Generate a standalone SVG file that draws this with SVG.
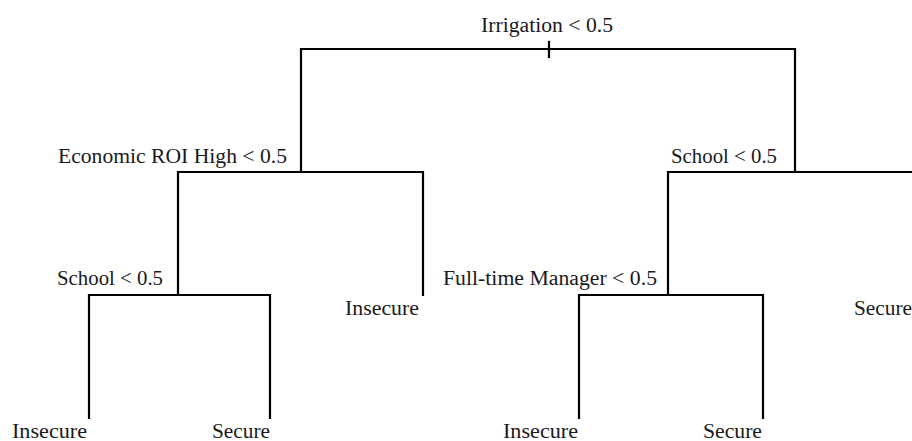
<svg xmlns="http://www.w3.org/2000/svg" width="912" height="441" viewBox="0 0 912 441">
<style>
.e{fill:none;stroke:#000;stroke-width:2.2;stroke-linecap:square}
text{font-family:"Liberation Serif","Times New Roman",serif;font-size:20px;fill:#1a1a1a}
.m{text-anchor:middle}
</style>
<rect width="912" height="441" fill="#fff"/>
<g id="connectors">
<path class="e" d="M301,172 V49 H795 V172"/>
<path class="e" d="M549,42 V57"/>
<path class="e" d="M423,295 V172 H178 V295"/>
<path class="e" d="M178,295 H89 V418"/>
<path class="e" d="M178,295 H270 V418"/>
<path class="e" d="M668,295 V172 H920"/>
<path class="e" d="M668,295 H579 V418"/>
<path class="e" d="M668,295 H763 V418"/>
</g>
<g id="n-irrigation"><text class="m" x="547" y="32" textLength="132" lengthAdjust="spacingAndGlyphs">Irrigation &lt; 0.5</text></g>
<g id="n-econ"><text x="58" y="163" textLength="229" lengthAdjust="spacingAndGlyphs">Economic ROI High &lt; 0.5</text></g>
<g id="n-school-r"><text x="671" y="163" textLength="106" lengthAdjust="spacingAndGlyphs">School &lt; 0.5</text></g>
<g id="n-school-l"><text x="57" y="285" textLength="106" lengthAdjust="spacingAndGlyphs">School &lt; 0.5</text></g>
<g id="n-fulltime"><text x="443" y="285" textLength="214" lengthAdjust="spacingAndGlyphs">Full-time Manager &lt; 0.5</text></g>
<g id="n-insecure-mid"><text x="345" y="315" textLength="74" lengthAdjust="spacingAndGlyphs">Insecure</text></g>
<g id="n-secure-right"><text x="854" y="315" textLength="58" lengthAdjust="spacingAndGlyphs">Secure</text></g>
<g id="n-insecure-1"><text x="12" y="438" textLength="75" lengthAdjust="spacingAndGlyphs">Insecure</text></g>
<g id="n-secure-1"><text x="212" y="438" textLength="58" lengthAdjust="spacingAndGlyphs">Secure</text></g>
<g id="n-insecure-2"><text x="503" y="438" textLength="75" lengthAdjust="spacingAndGlyphs">Insecure</text></g>
<g id="n-secure-2"><text x="703" y="438" textLength="59" lengthAdjust="spacingAndGlyphs">Secure</text></g>
</svg>
